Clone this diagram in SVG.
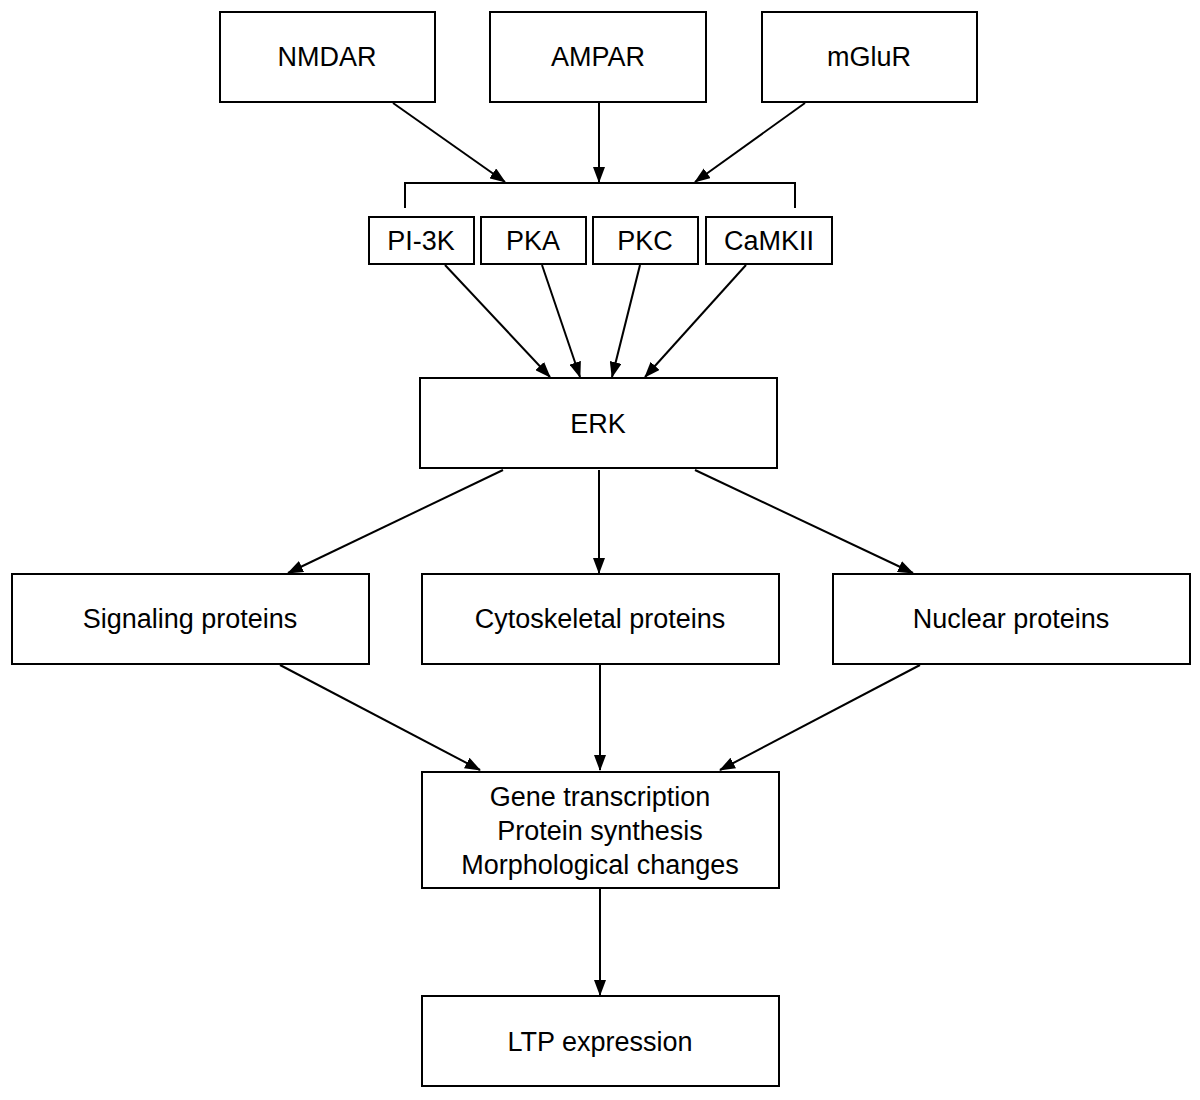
<svg xmlns="http://www.w3.org/2000/svg" width="1200" height="1100" viewBox="0 0 1200 1100">
<style>
rect{fill:#fff;stroke:#000;stroke-width:2}
text{font-family:"Liberation Sans",Arial,sans-serif;font-size:27px;text-anchor:middle;fill:#000}
.c line,.c path{stroke:#000;stroke-width:2;fill:none}
.a{marker-end:url(#ah)}
</style>
<defs><marker id="ah" markerWidth="16" markerHeight="12" refX="15" refY="6" orient="auto" markerUnits="userSpaceOnUse"><path d="M0,0 L16,6 L0,12 Z" fill="#000"/></marker></defs>
<rect width="1200" height="1100" style="fill:#fff;stroke:none"/>
<g class="c">
<line class="a" x1="393" y1="103" x2="505" y2="182"/>
<line class="a" x1="599" y1="103" x2="599" y2="182"/>
<line class="a" x1="805" y1="103" x2="695" y2="182"/>
<path d="M405,208 V183 H795 V208"/>
<line class="a" x1="445" y1="265" x2="550" y2="377"/>
<line class="a" x1="542" y1="265" x2="580" y2="377"/>
<line class="a" x1="640" y1="265" x2="612" y2="377"/>
<line class="a" x1="746" y1="265" x2="645" y2="377"/>
<line class="a" x1="503" y1="470" x2="288" y2="573"/>
<line class="a" x1="599" y1="470" x2="599" y2="573"/>
<line class="a" x1="695" y1="470" x2="913" y2="573"/>
<line class="a" x1="280" y1="665" x2="480" y2="770"/>
<line class="a" x1="600" y1="665" x2="600" y2="770"/>
<line class="a" x1="920" y1="665" x2="720" y2="770"/>
<line class="a" x1="600" y1="889" x2="600" y2="995"/>
</g>
<g id="nmdar"><rect x="220" y="12" width="215" height="90"/><text x="327" y="66">NMDAR</text></g>
<g id="ampar"><rect x="490" y="12" width="216" height="90"/><text x="598" y="66">AMPAR</text></g>
<g id="mglur"><rect x="762" y="12" width="215" height="90"/><text x="869" y="66">mGluR</text></g>
<g id="pi3k"><rect x="369" y="217" width="105" height="47"/><text x="421" y="250">PI-3K</text></g>
<g id="pka"><rect x="481" y="217" width="105" height="47"/><text x="533" y="250">PKA</text></g>
<g id="pkc"><rect x="593" y="217" width="105" height="47"/><text x="645" y="250">PKC</text></g>
<g id="camkii"><rect x="706" y="217" width="126" height="47"/><text x="769" y="250">CaMKII</text></g>
<g id="erk"><rect x="420" y="378" width="357" height="90"/><text x="598" y="433">ERK</text></g>
<g id="sig"><rect x="12" y="574" width="357" height="90"/><text x="190" y="628">Signaling proteins</text></g>
<g id="cyto"><rect x="422" y="574" width="357" height="90"/><text x="600" y="628">Cytoskeletal proteins</text></g>
<g id="nuc"><rect x="833" y="574" width="357" height="90"/><text x="1011" y="628">Nuclear proteins</text></g>
<g id="gene"><rect x="422" y="772" width="357" height="116"/><text x="600" y="806">Gene transcription</text><text x="600" y="840">Protein synthesis</text><text x="600" y="874">Morphological changes</text></g>
<g id="ltp"><rect x="422" y="996" width="357" height="90"/><text x="600" y="1051">LTP expression</text></g>
</svg>
